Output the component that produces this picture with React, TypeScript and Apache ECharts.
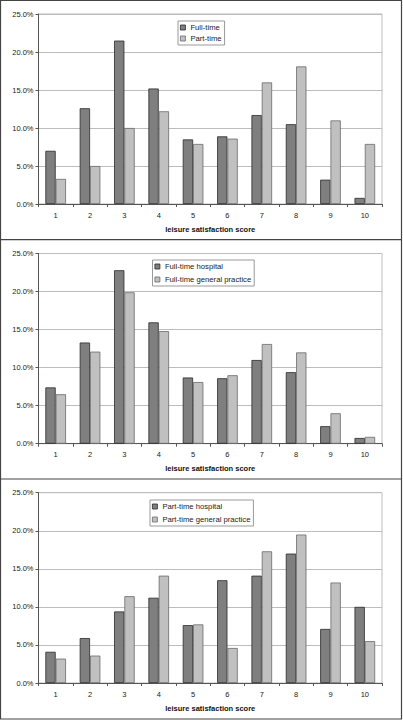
import React, { useEffect, useRef } from "react";
import * as echarts from "echarts";

const categories = ["1", "2", "3", "4", "5", "6", "7", "8", "9", "10"];

const p1Names = ["Full-time", "Part-time"];
const fullTime = [7.0, 12.6, 21.5, 15.2, 8.5, 8.9, 11.7, 10.5, 3.2, 0.8];
const partTime = [3.3, 5.0, 10.0, 12.2, 7.9, 8.6, 16.0, 18.1, 11.0, 7.9];

const p2Names = ["Full-time hospital", "Full-time general practice"];
const ftHospital = [7.4, 13.3, 22.8, 15.95, 8.7, 8.6, 11.0, 9.4, 2.3, 0.75];
const ftGP = [6.5, 12.1, 19.9, 14.8, 8.1, 9.0, 13.1, 12.0, 4.0, 0.9];

const p3Names = ["Part-time hospital", "Part-time general practice"];
const ptHospital = [4.1, 5.9, 9.4, 11.2, 7.6, 13.5, 14.1, 17.0, 7.1, 10.0];
const ptGP = [3.2, 3.6, 11.4, 14.1, 7.7, 4.6, 17.3, 19.5, 13.2, 5.5];

const yTicks = { min: 0, max: 25, interval: 5 };
const xAxisName = "leisure satisfaction score";

const FONT = "'Liberation Sans', Arial, sans-serif";
const DARK = "#7f7f7f";
const LIGHT = "#c0c0c0";

export default function App() {
  const ref = useRef<HTMLDivElement>(null);
  useEffect(() => {
    document.body.style.margin = "0";
    if (!ref.current) return;
    const chart = echarts.init(ref.current, undefined, { renderer: "svg" });

    const panels = [
      { names: p1Names, a: fullTime, b: partTime, top: 14, bottom: 204, legendLeft: 178, legendTop: 21, gap: 2 },
      { names: p2Names, a: ftHospital, b: ftGP, top: 253.5, bottom: 443.7, legendLeft: 152.5, legendTop: 260, gap: 4 },
      { names: p3Names, a: ptHospital, b: ptGP, top: 492.7, bottom: 683, legendLeft: 150, legendTop: 500, gap: 4 },
    ];

    const grid: any[] = [];
    const xAxis: any[] = [];
    const yAxis: any[] = [];
    const series: any[] = [];
    const legend: any[] = [];

    panels.forEach((p, i) => {
      grid.push({
        left: 38.5,
        width: 343.5,
        top: p.top,
        height: p.bottom - p.top,
        show: true,
        borderColor: "#bdbdbd",
        borderWidth: 1,
        backgroundColor: "#fff",
      });
      xAxis.push({
        type: "category",
        gridIndex: i,
        data: categories,
        boundaryGap: true,
        axisLine: { lineStyle: { color: "#555", width: 1 } },
        axisTick: { show: true, length: 3, lineStyle: { color: "#555" } },
        axisLabel: { color: "#222", fontSize: 7.5, fontFamily: FONT, margin: 7 },
        name: xAxisName,
        nameLocation: "middle",
        nameGap: 21,
        nameTextStyle: { color: "#111", fontSize: 7.5, fontWeight: "bold", fontFamily: FONT, verticalAlign: "top" },
      });
      yAxis.push({
        type: "value",
        gridIndex: i,
        min: yTicks.min,
        max: yTicks.max,
        interval: yTicks.interval,
        axisLine: { show: true, lineStyle: { color: "#555", width: 1 } },
        axisTick: { show: true, length: 3, lineStyle: { color: "#555" } },
        axisLabel: {
          color: "#222",
          fontSize: 7.5,
          fontFamily: FONT,
          margin: 5,
          formatter: (v: number) => v.toFixed(1) + "%",
        },
        splitLine: { show: true, lineStyle: { color: "#bdbdbd", width: 1 } },
      });
      series.push({
        type: "bar",
        name: p.names[0],
        xAxisIndex: i,
        yAxisIndex: i,
        data: p.a,
        barGap: "0%",
        barCategoryGap: "40%",
        itemStyle: { color: DARK, borderColor: "#2a2a2a", borderWidth: 0.8 },
      });
      series.push({
        type: "bar",
        name: p.names[1],
        xAxisIndex: i,
        yAxisIndex: i,
        data: p.b,
        barGap: "0%",
        barCategoryGap: "40%",
        itemStyle: { color: LIGHT, borderColor: "#6a6a6a", borderWidth: 0.8 },
      });
      legend.push({
        data: p.names.map((n) => ({ name: n, icon: "rect" })),
        orient: "vertical",
        left: p.legendLeft,
        top: p.legendTop,
        itemWidth: 5,
        itemHeight: 5,
        itemGap: p.gap,
        padding: [2, 3, 2, 2],
        borderColor: "#9a9a9a",
        borderWidth: 1,
        backgroundColor: "#fff",
        selectedMode: false,
        itemStyle: { borderWidth: 0.8 },
        textStyle: { color: "#222", fontSize: 7.7, fontFamily: FONT, lineHeight: 9 },
      });
    });

    chart.setOption({
      animation: false,
      backgroundColor: "#fff",
      grid,
      xAxis,
      yAxis,
      series,
      legend,
      graphic: [
        { type: "rect", shape: { x: 0.5, y: 0.5, width: 401, height: 718.5 }, style: { fill: "none", stroke: "#444", lineWidth: 1.2 }, silent: true },
        { type: "line", shape: { x1: 0, y1: 239.7, x2: 402, y2: 239.7 }, style: { stroke: "#444", lineWidth: 1.2 }, silent: true },
        { type: "line", shape: { x1: 0, y1: 479, x2: 402, y2: 479 }, style: { stroke: "#444", lineWidth: 1.2 }, silent: true },
      ],
    });
    return () => chart.dispose();
  }, []);
  return <div ref={ref} style={{ width: 403, height: 720 }} />;
}
